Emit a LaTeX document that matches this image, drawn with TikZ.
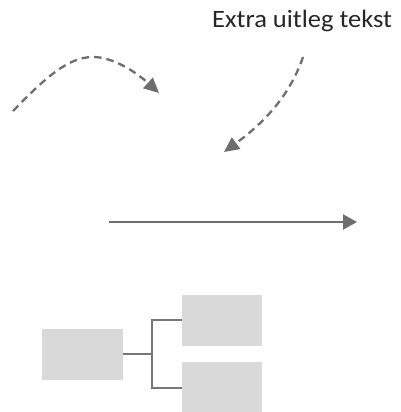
\documentclass[tikz,border=0pt]{standalone}
\usepackage{fontspec}
\setmainfont{Carlito}
\usetikzlibrary{arrows.meta}
\definecolor{linegray}{HTML}{6E6E6E}
\definecolor{boxgray}{HTML}{D9D9D9}
\definecolor{conngray}{HTML}{777777}
\tikzset{
  dasharrow/.style={draw=linegray, line width=2.3pt, dash pattern=on 7.5pt off 5pt,
     -{Triangle[length=15pt,width=14pt]}},
  plainarrow/.style={draw=linegray, line width=2.2pt, -{Triangle[length=14pt,width=15pt]}},
  graybox/.style={fill=boxgray, draw=none, inner sep=0pt},
  conn/.style={draw=conngray, line width=1.3pt},
  note/.style={font=\fontsize{25}{30}\selectfont, text=black!85, inner sep=0pt}
}
\begin{document}
\begin{tikzpicture}[x=1pt,y=-1pt]
\useasboundingbox (0,0) rectangle (401,412);
% text
\node[note, anchor=base west] (txt) at (212,28) {\scalebox{1.06}[1]{Extra uitleg tekst}};
% dashed curve 1
\coordinate (c1s) at (13,111);
\coordinate (c1m) at (93,57);
\coordinate (c1e) at (159,93);
\draw[dasharrow] (c1s) .. controls (45,78) and (68,57) .. (c1m) .. controls (113,57) and (136,72) .. (c1e);
% dashed curve 2
\coordinate (c2s) at (303,57);
\coordinate (c2e) at (224,152);
\draw[dasharrow] (c2s) .. controls (290,95) and (265,122) .. (c2e);
% straight arrow
\coordinate (a1) at (109,222);
\coordinate (a2) at (357,222);
\draw[plainarrow] (a1) -- (a2);
% boxes
\node[graybox, minimum width=81pt, minimum height=51pt] (left) at (82,354) {};
\node[graybox, minimum width=80pt, minimum height=51pt] (top) at (222,320) {};
\path[fill=boxgray] (182,362) rectangle (262,412);
\coordinate (bot) at (182,388);
\coordinate (split) at (152,354);
\draw[conn] (left.east) -- (split);
\draw[conn] (top.west) -| (split) |- (bot);
\end{tikzpicture}
\end{document}
